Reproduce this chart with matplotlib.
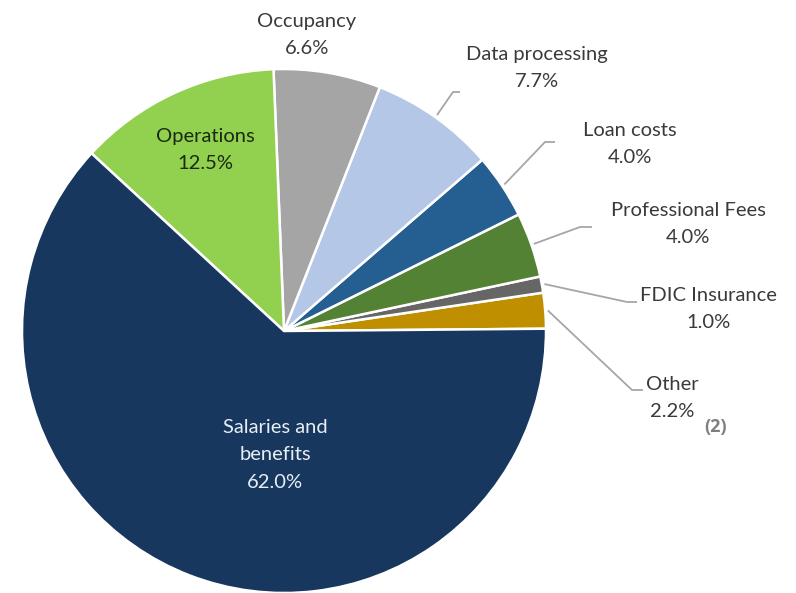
import numpy as np
import matplotlib.pyplot as plt

# Données (ordre anti-horaire à partir de 0°)
categories = ["Other", "FDIC Insurance", "Professional Fees", "Loan costs",
              "Data processing", "Occupancy", "Operations", "Salaries and\nbenefits"]
values = [2.2, 1.0, 4.0, 4.0, 7.7, 6.6, 12.5, 62.0]
colors = ["#BF8F00", "#666666", "#548235", "#255E91",
          "#B4C7E7", "#A5A5A5", "#92D050", "#17375E"]

W, H = 796, 593
cx, cy, r = 284, 331, 262


def Y(p):
    return H - p


plt.rcParams['font.family'] = ['Lato', 'DejaVu Sans']
fig = plt.figure(figsize=(W / 100, H / 100), dpi=100)
ax = fig.add_axes([0, 0, 1, 1])
ax.set_xlim(0, W)
ax.set_ylim(0, H)
ax.set_aspect('equal')
ax.axis('off')

wedges, _ = ax.pie(values, colors=colors, startangle=0.5, counterclock=True,
                   center=(cx, Y(cy)), radius=r,
                   wedgeprops=dict(edgecolor="white", linewidth=1.8))
ax.set_xlim(0, W)
ax.set_ylim(0, H)

txt = "#3A3A3A"
fs = 14.5
ls = 1.72

# Étiquettes à l'intérieur
ax.text(275, Y(455), "Salaries and\nbenefits\n62.0%", ha="center", va="center",
        color="#E8EEF5", fontsize=fs, linespacing=ls)
ax.text(205, Y(150), "Operations\n12.5%", ha="center", va="center",
        color="#1A2A10", fontsize=fs, linespacing=ls)

# Étiquettes extérieures : (x, y, coude, fin de ligne)
outside = {
    "Occupancy": (307, 35, None, None),
    "Data processing": (537, 68, (453, 92), (460, 92)),
    "Loan costs": (630, 144, (545, 142), (555, 142)),
    "Professional Fees": (688, 224, (580, 227), (592, 227)),
    "FDIC Insurance": (708, 309, (627, 302), (637, 302)),
    "Other": (672, 398, (632, 390), (643, 390)),
}

for w, name, v in zip(wedges, categories, values):
    if name not in outside:
        continue
    x, y, elbow, end = outside[name]
    ax.text(x, Y(y), f"{name}\n{v:.1f}%", ha="center", va="center",
            color=txt, fontsize=fs, linespacing=ls)
    if elbow is not None:
        ang = np.deg2rad((w.theta1 + w.theta2) / 2)
        sx, sy = cx + r * 1.01 * np.cos(ang), cy - r * 1.01 * np.sin(ang)
        ax.plot([sx, elbow[0], end[0]], [Y(sy), Y(elbow[1]), Y(end[1])],
                color="#A6A6A6", linewidth=1.3, solid_capstyle="butt")

ax.text(716, Y(427), "(2)", ha="center", va="center", color="#7F7F7F",
        fontsize=13, fontweight="bold", family=["Open Sans", "DejaVu Sans"])

fig.savefig("out.png", dpi=100)
